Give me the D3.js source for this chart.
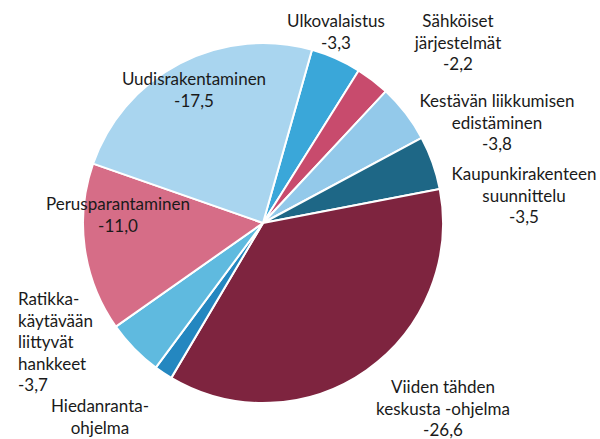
<!DOCTYPE html>
<html>
<head>
<meta charset="utf-8">
<script src="https://cdn.jsdelivr.net/npm/d3@7"></script>
<style>
  body { margin: 0; background: #fff; }
  svg text { font-family: Lato, "Open Sans", sans-serif; font-size: 17px; fill: #1a1a1a; }
</style>
</head>
<body>
<div id="chart"></div>
<script>
var width = 600
var height = 439

// data, clockwise from the Ulkovalaistus slice
const categories = ["Ulkovalaistus", "Sähköiset järjestelmät", "Kestävän liikkumisen edistäminen",
    "Kaupunkirakenteen suunnittelu", "Viiden tähden keskusta -ohjelma", "Hiedanranta-ohjelma",
    "Ratikka-käytävään liittyvät hankkeet", "Perusparantaminen", "Uudisrakentaminen"];
const values = [-3.3, -2.2, -3.8, -3.5, -26.6, -1.2, -3.7, -11.0, -17.5];
const showValue = [true, true, true, true, true, false, true, true, true];
const labelLines = [
    ["Ulkovalaistus"],
    ["Sähköiset", "järjestelmät"],
    ["Kestävän liikkumisen", "edistäminen"],
    ["Kaupunkirakenteen", "suunnittelu"],
    ["Viiden tähden", "keskusta -ohjelma"],
    ["Hiedanranta-", "ohjelma"],
    ["Ratikka-", "käytävään", "liittyvät", "hankkeet"],
    ["Perusparantaminen"],
    ["Uudisrakentaminen"]
];

const colors = ["#3aa7d9", "#c84b6d", "#93c9ea", "#1e6786", "#7e243f", "#2487c0", "#5fbadf", "#d66d87", "#a9d5ef"];

// label anchors (x, first baseline, anchor)
const labelPos = [
    [336, 27, "middle"], [458, 27, "middle"], [497, 107, "middle"], [524, 180, "middle"],
    [443, 393, "middle"], [100, 412, "middle"], [18, 305, "start"], [118, 210, "middle"],
    [194, 85, "middle"]
];
const lineH = 21.5;

const cx = 263, cy = 223, radius = 180;

const svg = d3.select("#chart").append("svg")
    .attr("width", width)
    .attr("height", height);

const g = svg.append("g").attr("transform", `translate(${cx},${cy})`);

const startDeg = 15.8;
const pie = d3.pie()
    .sort(null)
    .value(d => Math.abs(d))
    .startAngle(startDeg * Math.PI / 180)
    .endAngle((startDeg + 360) * Math.PI / 180);

const arc = d3.arc().innerRadius(0).outerRadius(radius);

g.selectAll("path")
    .data(pie(values))
    .enter().append("path")
    .attr("d", arc)
    .attr("fill", (d, i) => colors[i])
    .attr("stroke", "#fff")
    .attr("stroke-width", 2)
    .attr("stroke-linejoin", "round");

const fmt = v => d3.format(".1f")(v).replace(".", ",").replace("−", "-");

categories.forEach((c, i) => {
    const lines = labelLines[i].slice();
    if (showValue[i]) lines.push(fmt(values[i]));
    const p = labelPos[i];
    const t = svg.append("text")
        .attr("x", p[0])
        .attr("y", p[1])
        .attr("text-anchor", p[2]);
    lines.forEach((l, j) => {
        t.append("tspan")
            .attr("x", p[0])
            .attr("y", p[1] + j * lineH)
            .text(l);
    });
});
</script>
</body>
</html>
